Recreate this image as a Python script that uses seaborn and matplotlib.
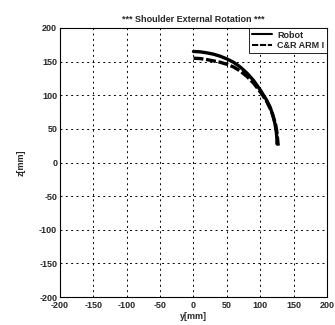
import matplotlib
matplotlib.use("Agg")
import matplotlib.pyplot as plt
import seaborn as sns
import pandas as pd

sns.set_style("white")
plt.rcParams['font.family'] = ['Liberation Sans', 'DejaVu Sans']

robot_y = [0, 10, 20, 30, 40, 50, 60, 70, 80, 90, 100, 105, 110, 115, 119, 122, 124, 125, 125]
robot_z = [165, 164.5, 163, 161, 158, 154, 149, 142, 133, 122, 108, 100, 92, 82, 70, 58, 46, 36, 28]
arm_y = [0, 10, 20, 30, 40, 50, 60, 70, 80, 90, 100, 105, 110, 115, 119, 123, 125, 126, 127]
arm_z = [155, 154.5, 153, 151, 149, 146, 142, 136, 128, 118, 105, 98, 90, 80, 70, 57, 45, 35, 25]

ticks = [-200, -150, -100, -50, 0, 50, 100, 150, 200]

df_r = pd.DataFrame({"y": robot_y, "z": robot_z})
df_a = pd.DataFrame({"y": arm_y, "z": arm_z})

fig = plt.figure(figsize=(3.35, 3.25), dpi=100)
ax = fig.add_axes([0.179, 0.086, 0.797, 0.828])

sns.lineplot(data=df_r, x="y", y="z", sort=False, estimator=None, ax=ax,
             color="black", linewidth=2.4, label="Robot")
sns.lineplot(data=df_a, x="y", y="z", sort=False, estimator=None, ax=ax,
             color="black", linewidth=2.4, linestyle=(0, (3, 0.8)),
             label="C&R ARM I")

ax.set_xlim(-200, 200)
ax.set_ylim(-200, 200)
ax.set_xticks(ticks)
ax.set_yticks(ticks)
ax.set_xticklabels([str(t) for t in ticks], fontsize=6.5, fontweight="bold")
ax.set_yticklabels([str(t) for t in ticks], fontsize=6.5, fontweight="bold")
ax.tick_params(direction="in", length=3, width=0.6)
ax.tick_params(axis="x", pad=3)
ax.tick_params(axis="y", pad=2)
ax.grid(True, color="black", linestyle=(0, (2, 3.5)), linewidth=0.7)
for s in ax.spines.values():
    s.set_color("black")
    s.set_linewidth(0.8)

ax.set_xlabel("y[mm]", fontsize=6.5, fontweight="bold", labelpad=1)
ax.set_ylabel("z[mm]", fontsize=6.5, fontweight="bold", labelpad=10)
ax.set_title("*** Shoulder External Rotation ***", fontsize=6.5,
             fontweight="bold", pad=4)

leg = ax.legend(loc="upper right", fontsize=6.5, frameon=True, fancybox=False,
                borderaxespad=0.0, handlelength=2.2, borderpad=0.3,
                labelspacing=0.2, handletextpad=0.6)
leg.get_frame().set_edgecolor("black")
leg.get_frame().set_linewidth(0.6)
leg.get_frame().set_alpha(1)
for line in leg.get_lines():
    line.set_linewidth(1.5)
for t in leg.get_texts():
    t.set_fontweight("bold")

fig.savefig("out.png", dpi=100)
